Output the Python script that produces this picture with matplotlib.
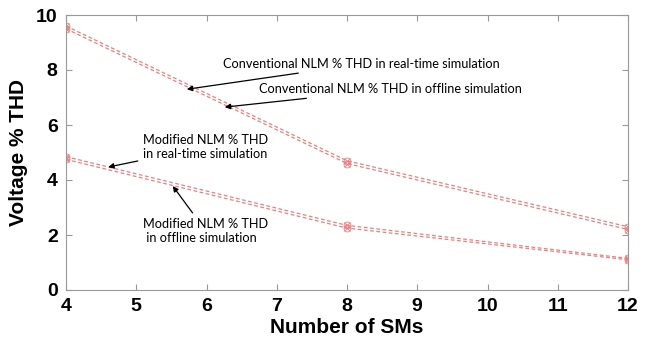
import numpy as np
import matplotlib.pyplot as plt

sms = [4, 8, 12]
conv_rt = [9.6, 4.7, 2.3]
conv_off = [9.5, 4.6, 2.2]
mod_rt = [4.85, 2.35, 1.15]
mod_off = [4.75, 2.25, 1.1]

red = "#e88080"

fig = plt.figure(figsize=(6.5, 3.43), dpi=100)
ax = fig.add_axes([66 / 650, 53 / 343, 562 / 650, 275 / 343])

for y in (conv_rt, conv_off, mod_rt, mod_off):
    ax.plot(sms, y, linestyle=(0, (3, 2)), linewidth=0.9, color=red,
            marker="o", markersize=5, markerfacecolor="none", markeredgewidth=0.6)
    ax.plot(sms, y, linestyle="none", color=red, marker="x", markersize=4,
            markeredgewidth=0.6)

ax.set_xlim(4, 12)
ax.set_ylim(0, 10)
ax.set_xticks(range(4, 13))
ax.set_yticks(range(0, 11, 2))
ax.tick_params(direction="in", top=True, right=True, length=4, color="#999999",
               labelsize=14, pad=6)
for lab in ax.get_xticklabels() + ax.get_yticklabels():
    lab.set_fontweight("bold")
    lab.set_fontfamily("Liberation Sans")
for s in ax.spines.values():
    s.set_color("#999999")

ax.set_xlabel("Number of SMs", fontsize=15, fontweight="bold",
              fontfamily="Liberation Sans", labelpad=2)
ax.set_ylabel("Voltage % THD", fontsize=15, fontweight="bold",
              fontfamily="Liberation Sans", labelpad=6)

arrow = dict(arrowstyle="-|>", color="black", lw=0.9, mutation_scale=8,
             shrinkA=2, shrinkB=0)
tkw = dict(fontsize=9.2, fontfamily="Lato")
ax.annotate("Conventional NLM % THD in real-time simulation", xy=(5.72, 7.3),
            xytext=(6.24, 8.22), va="center", arrowprops=arrow, **tkw)
ax.annotate("Conventional NLM % THD in offline simulation", xy=(6.26, 6.65),
            xytext=(6.75, 7.3), va="center", arrowprops=arrow, **tkw)
ax.annotate("Modified NLM % THD\nin real-time simulation", xy=(4.6, 4.47),
            xytext=(5.1, 5.2), va="center", arrowprops=arrow, **tkw)
ax.annotate("Modified NLM % THD\n in offline simulation", xy=(5.52, 3.78),
            xytext=(5.1, 2.15), va="center", arrowprops=arrow, **tkw)

fig.savefig("out.png", dpi=100)
